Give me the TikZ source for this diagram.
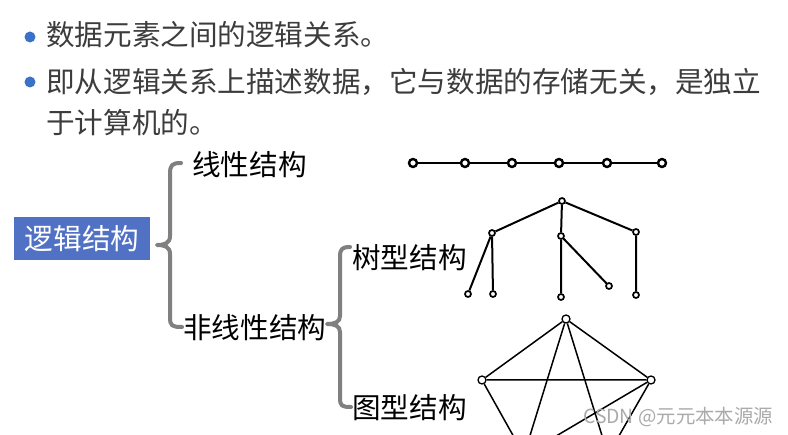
\documentclass[tikz,border=0pt]{standalone}
\usepackage{fontspec}
\setmainfont{Noto Sans CJK SC}
\definecolor{bodytext}{RGB}{60,60,60}
\definecolor{bulletblue}{RGB}{58,114,200}
\definecolor{boxblue}{RGB}{80,113,196}
\definecolor{bracegray}{RGB}{128,128,128}
\definecolor{markgray}{RGB}{170,170,170}
\tikzset{
  bodyline/.style={anchor=base west, inner sep=0pt, text=bodytext, font=\fontsize{28.6}{34}\selectfont},
  label/.style={anchor=base west, inner sep=0pt, text=black, font=\fontsize{28.6}{34}\selectfont},
  bulletdot/.style={circle, fill=bulletblue, inner sep=0pt, minimum size=11pt},
  titlebox/.style={fill=boxblue, text=white, inner sep=0pt, minimum width=136pt, minimum height=43pt, font=\fontsize{28.6}{34}\selectfont},
  bracepath/.style={draw=bracegray, line width=4pt, line cap=round, line join=round},
  chainnode/.style={circle, draw=black, fill=white, line width=2.4pt, inner sep=0pt, minimum size=8pt},
  chainedge/.style={line width=2.6pt},
  treenode/.style={circle, draw=black, fill=white, line width=1.7pt, inner sep=0pt, minimum size=6pt},
  treeedge/.style={line width=2pt},
  graphnode/.style={circle, draw=black, fill=white, line width=1.3pt, inner sep=0pt, minimum size=8pt},
  graphedge/.style={line width=1.5pt},
  watermark/.style={anchor=base west, inner sep=0pt, text=markgray, font=\fontsize{19.4}{24}\selectfont}
}
\begin{document}
\begin{tikzpicture}[x=1pt,y=-1pt]
\useasboundingbox (0,0) rectangle (788,435);
\clip (0,0) rectangle (788,435);
\fill[white] (0,0) rectangle (788,435);

% bullet text
\node[bulletdot] (b1) at (30,37) {};
\node[bodyline] (t1) at (46,46) {数据元素之间的逻辑关系。};
\node[bulletdot] (b2) at (30,82) {};
\node[bodyline] (t2) at (46,93) {即从逻辑关系上描述数据，它与数据的存储无关，是独立};
\node[bodyline] (t3) at (46,134) {于计算机的。};

% title box
\node[titlebox] (lj) at (82,238.5) {逻辑结构};

% labels
\node[label] (xx) at (192,176) {线性结构};
\node[label] (fx) at (183,339) {非线性结构};
\node[label] (sx) at (352,269) {树型结构};
\node[label] (tx) at (352,419) {图型结构};

% braces
\draw[bracepath] (181,163) .. controls (172,163) and (170,165) .. (170,174) -- (170,236)
  .. controls (170,243) and (165,245) .. (157,245)
  .. controls (165,245) and (170,247) .. (170,254) -- (170,317)
  .. controls (170,326) and (172,327) .. (182,327);
\draw[bracepath] (350,247) .. controls (342,247) and (340,249) .. (340,257) -- (340,316)
  .. controls (340,322) and (335,324) .. (327,324)
  .. controls (335,324) and (340,326) .. (340,332) -- (340,398)
  .. controls (340,406) and (342,407) .. (351,407);

% linear chain
\foreach \i/\x in {1/413,2/465,3/512,4/559,5/607,6/662} {
  \node[chainnode] (c\i) at (\x,163) {};
}
\draw[chainedge] (c1) -- (c2) (c2) -- (c3) (c3) -- (c4) (c4) -- (c5) (c5) -- (c6);

% tree
\node[treenode] (r) at (562,201) {};
\node[treenode] (a) at (492,233) {};
\node[treenode] (b) at (561,236) {};
\node[treenode] (c) at (636,232) {};
\node[treenode] (a1) at (468,294) {};
\node[treenode] (a2) at (493,294) {};
\node[treenode] (b1) at (561,297) {};
\node[treenode] (b2) at (609,286) {};
\node[treenode] (c1) at (636,295) {};
\draw[treeedge] (r) -- (a) (r) -- (b) (r) -- (c)
  (a) -- (a1) (a) -- (a2) (b) -- (b1) (b) -- (b2) (c) -- (c1);

% graph
\node[graphnode] (gt) at (566,319) {};
\node[graphnode] (gl) at (482,380) {};
\node[graphnode] (gr) at (651,380) {};
\node[graphnode] (gbl) at (524,455) {};
\node[graphnode] (gbr) at (608,455) {};
\draw[graphedge] (gt) -- (gl) (gt) -- (gr) (gl) -- (gr)
  (gl) -- (gbl) (gt) -- (gbl) (gt) -- (gbr) (gr) -- (gbl) (gr) -- (gbr) (gbl) -- (gbr);

% watermark
\node[watermark] (wm) at (583,424) {CSDN @元元本本源源};
\end{tikzpicture}
\end{document}
